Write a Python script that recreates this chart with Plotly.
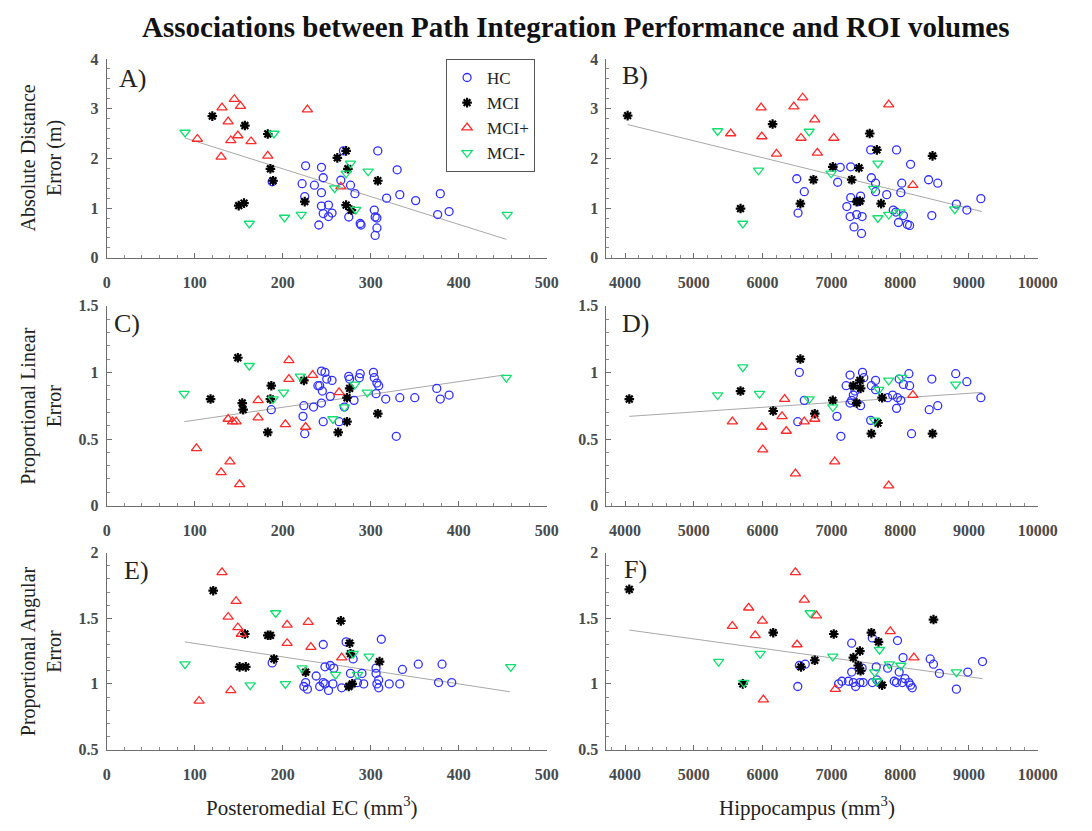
import plotly.graph_objects as go

# ---------------- Data ----------------
# Panel A: Posteromedial EC volume vs Absolute Distance Error
A_HC_x = [308, 226, 244, 246, 222, 236, 244, 266, 277, 282, 269, 188, 225, 244, 252, 246, 252, 256, 241, 275, 288, 289, 304, 305, 307, 307, 305, 330, 318, 333, 351, 379, 376, 389]
A_HC_y = [2.15, 1.85, 1.82, 1.61, 1.49, 1.46, 1.31, 1.56, 1.46, 1.29, 2.15, 1.53, 1.23, 1.04, 1.06, 0.89, 0.83, 0.90, 0.66, 0.82, 0.69, 0.66, 0.96, 0.82, 0.80, 0.60, 0.45, 1.77, 1.20, 1.27, 1.15, 1.29, 0.87, 0.93]
A_MCI_x = [120, 157, 183, 186, 189, 150, 156, 225, 262, 272, 274, 308, 272, 278]
A_MCI_y = [2.85, 2.66, 2.49, 1.79, 1.55, 1.05, 1.10, 1.13, 2.01, 2.15, 1.79, 1.55, 1.06, 0.96]
A_MCIp_x = [145, 131, 152, 228, 138, 149, 141, 164, 103, 130, 183, 266]
A_MCIp_y = [3.19, 3.02, 3.05, 2.98, 2.74, 2.46, 2.36, 2.34, 2.39, 2.03, 2.05, 1.43]
A_MCIm_x = [89, 190, 277, 297, 272, 259, 283, 202, 221, 162, 455]
A_MCIm_y = [2.52, 2.50, 1.90, 1.74, 1.70, 1.40, 0.97, 0.81, 0.87, 0.69, 0.87]
A_FIT_x = [89, 454]
A_FIT_y = [2.41, 0.37]

# Panel B: Hippocampus volume vs Absolute Distance Error
B_HC_x = [7129, 7281, 7091, 6496, 6606, 6515, 7571, 7947, 8151, 7581, 7642, 8023, 7642, 7804, 8009, 8413, 8546, 7281, 7424, 7224, 7272, 7367, 7447, 7329, 7438, 7899, 7937, 8047, 7975, 8104, 8137, 8460, 8817, 8969, 9173, 7390]
B_HC_y = [1.82, 1.83, 1.52, 1.59, 1.33, 0.90, 2.17, 2.17, 1.88, 1.61, 1.50, 1.50, 1.33, 1.27, 1.31, 1.57, 1.50, 1.21, 1.24, 1.03, 0.83, 0.87, 0.83, 0.62, 0.49, 0.96, 0.92, 0.85, 0.71, 0.67, 0.65, 0.85, 1.08, 0.96, 1.19, 1.13]
B_MCI_x = [4038, 6145, 5679, 6549, 6739, 7020, 7400, 7295, 7367, 7414, 7557, 7661, 7723, 8470]
B_MCI_y = [2.86, 2.69, 0.99, 1.09, 1.57, 1.83, 1.81, 1.57, 1.13, 1.14, 2.50, 2.17, 1.09, 2.05]
B_MCIp_x = [6582, 5978, 6454, 7833, 6758, 5536, 5988, 6558, 7034, 6202, 6796, 8184]
B_MCIp_y = [3.22, 3.02, 3.04, 3.08, 2.78, 2.50, 2.44, 2.41, 2.41, 2.09, 2.11, 1.46]
B_MCIm_x = [5346, 6677, 5940, 6996, 7676, 7614, 7676, 7833, 7994, 5712, 8793]
B_MCIm_y = [2.55, 2.54, 1.76, 1.70, 1.90, 1.39, 0.80, 0.87, 0.92, 0.69, 0.98]
B_FIT_x = [4038, 9188]
B_FIT_y = [2.68, 0.93]

# Panel C: Posteromedial EC volume vs Proportional Linear Error
C_HC_x = [244, 248, 250, 256, 240, 242, 245, 275, 276, 288, 287, 303, 304, 307, 309, 306, 281, 254, 244, 235, 224, 223, 246, 264, 270, 225, 187, 317, 333, 350, 375, 379, 389, 329]
C_HC_y = [1.01, 1.00, 0.95, 0.94, 0.90, 0.90, 0.86, 0.97, 0.95, 0.99, 0.96, 1.00, 0.96, 0.92, 0.90, 0.84, 0.79, 0.82, 0.77, 0.74, 0.75, 0.67, 0.63, 0.63, 0.74, 0.54, 0.72, 0.80, 0.81, 0.81, 0.88, 0.80, 0.83, 0.52]
C_MCI_x = [149, 118, 154, 155, 187, 186, 183, 224, 276, 273, 273, 263, 308]
C_MCI_y = [1.11, 0.80, 0.77, 0.72, 0.90, 0.80, 0.55, 0.94, 0.88, 0.81, 0.63, 0.55, 0.69]
C_MCIp_x = [207, 207, 234, 264, 172, 172, 138, 143, 147, 203, 226, 102, 140, 130, 151]
C_MCIp_y = [1.09, 0.95, 0.98, 0.85, 0.79, 0.66, 0.65, 0.63, 0.63, 0.61, 0.59, 0.43, 0.33, 0.25, 0.16]
C_MCIm_x = [88, 162, 220, 201, 189, 282, 296, 270, 257, 454]
C_MCIm_y = [0.84, 1.05, 0.97, 0.85, 0.80, 0.91, 0.85, 0.74, 0.65, 0.96]
C_FIT_x = [88, 451]
C_FIT_y = [0.63, 0.98]

# Panel D: Hippocampus volume vs Proportional Linear Error
D_HC_x = [6534, 7271, 7452, 7471, 7642, 7214, 7343, 7319, 7295, 7271, 7424, 7581, 7642, 7818, 7890, 7961, 8009, 7947, 7985, 8047, 8127, 8137, 8165, 8460, 8422, 8546, 8807, 8969, 9173, 6606, 6511, 7081, 7138, 7571]
D_HC_y = [1.00, 0.98, 1.00, 0.96, 0.94, 0.90, 0.86, 0.83, 0.79, 0.77, 0.75, 0.90, 0.87, 0.81, 0.83, 0.81, 0.79, 0.73, 0.95, 0.91, 0.99, 0.90, 0.54, 0.95, 0.72, 0.75, 0.99, 0.93, 0.81, 0.79, 0.63, 0.67, 0.52, 0.64]
D_MCI_x = [4062, 5679, 6154, 6549, 6758, 7020, 7319, 7414, 7424, 7367, 7676, 7581, 7737, 8470]
D_MCI_y = [0.80, 0.86, 0.71, 1.10, 0.69, 0.79, 0.90, 0.94, 0.88, 0.77, 0.62, 0.54, 0.81, 0.54]
D_MCIp_x = [6320, 6282, 6344, 5560, 5988, 6002, 6606, 6758, 6477, 7048, 7833, 8184]
D_MCIp_y = [0.80, 0.67, 0.56, 0.63, 0.59, 0.42, 0.63, 0.65, 0.24, 0.33, 0.15, 0.83]
D_MCIm_x = [5712, 5346, 5954, 6677, 7020, 7690, 7833, 8023, 7628, 8807]
D_MCIm_y = [1.04, 0.83, 0.84, 0.80, 0.74, 0.87, 0.94, 0.96, 0.64, 0.91]
D_FIT_x = [4062, 9197]
D_FIT_y = [0.67, 0.85]

# Panel E: Posteromedial EC volume vs Proportional Angular Error
E_HC_x = [246, 272, 312, 280, 248, 254, 258, 238, 226, 224, 228, 242, 246, 248, 252, 257, 267, 277, 285, 290, 292, 306, 306, 307, 309, 309, 321, 333, 336, 354, 381, 377, 392, 188]
E_HC_y = [1.30, 1.32, 1.34, 1.19, 1.13, 1.14, 1.12, 1.06, 1.01, 0.98, 0.96, 0.98, 1.01, 1.00, 0.95, 1.00, 0.97, 1.08, 1.01, 1.08, 1.00, 1.12, 1.08, 1.00, 0.97, 1.03, 1.00, 1.00, 1.11, 1.15, 1.15, 1.01, 1.01, 1.16]
E_MCI_x = [121, 157, 183, 186, 151, 158, 190, 226, 266, 276, 277, 310, 275, 279]
E_MCI_y = [1.71, 1.38, 1.37, 1.37, 1.13, 1.13, 1.19, 1.09, 1.48, 1.31, 1.23, 1.17, 0.98, 1.00]
E_MCIp_x = [131, 147, 138, 149, 153, 205, 229, 205, 232, 267, 141, 105]
E_MCIp_y = [1.85, 1.63, 1.51, 1.43, 1.38, 1.45, 1.47, 1.31, 1.28, 1.20, 0.95, 0.87]
E_MCIm_x = [89, 192, 280, 298, 222, 260, 285, 163, 203, 459]
E_MCIm_y = [1.15, 1.54, 1.23, 1.21, 1.12, 1.07, 1.07, 0.99, 1.00, 1.13]
E_FIT_x = [89, 458]
E_FIT_y = [1.32, 0.94]

# Panel F: Hippocampus volume vs Proportional Angular Error
F_HC_x = [7295, 7595, 7961, 8042, 8436, 8484, 8570, 8983, 9197, 8817, 6534, 6620, 6511, 7295, 7447, 7652, 7818, 7985, 7105, 7153, 7248, 7319, 7352, 7414, 7462, 7595, 7661, 7690, 7913, 7947, 8032, 8070, 8127, 8151, 8175]
F_HC_y = [1.31, 1.35, 1.33, 1.20, 1.19, 1.15, 1.08, 1.09, 1.17, 0.96, 1.14, 1.15, 0.98, 1.09, 1.12, 1.13, 1.12, 1.09, 1.00, 1.02, 1.02, 1.01, 0.98, 1.01, 1.01, 1.01, 1.03, 1.01, 1.02, 1.01, 1.01, 1.04, 1.01, 0.99, 0.97]
F_MCI_x = [4062, 6154, 6558, 6758, 7034, 7319, 7414, 7390, 7424, 7581, 7685, 7737, 8484, 5712]
F_MCI_y = [1.72, 1.39, 1.13, 1.18, 1.38, 1.20, 1.25, 1.14, 1.10, 1.39, 1.32, 0.99, 1.49, 1.00]
F_MCIp_x = [6477, 6606, 6782, 5797, 5997, 5560, 5892, 6501, 7856, 8199, 7058, 6011]
F_MCIp_y = [1.85, 1.64, 1.52, 1.58, 1.48, 1.44, 1.37, 1.30, 1.40, 1.20, 0.96, 0.88]
F_MCIm_x = [5360, 5964, 6691, 7020, 7699, 7842, 8009, 7628, 7661, 5726, 8817]
F_MCIm_y = [1.17, 1.23, 1.54, 1.21, 1.26, 1.15, 1.14, 1.09, 1.02, 1.01, 1.09]
F_FIT_x = [4062, 9197]
F_FIT_y = [1.41, 1.04]

GROUPS = ["HC", "MCI", "MCI+", "MCI-"]
PANEL_LABELS = ["A)", "B)", "C)", "D)", "E)", "F)"]
TITLE = "Associations between Path Integration Performance and ROI volumes"
Y_TITLES = ["Absolute Distance<br>Error (m)", "Proportional Linear<br>Error", "Proportional Angular<br>Error"]
X_TITLES = ["Posteromedial EC (mm<sup>3</sup>)", "Hippocampus (mm<sup>3</sup>)"]

panels = [
    dict(g=[(A_HC_x, A_HC_y), (A_MCI_x, A_MCI_y), (A_MCIp_x, A_MCIp_y), (A_MCIm_x, A_MCIm_y)], fit=(A_FIT_x, A_FIT_y)),
    dict(g=[(B_HC_x, B_HC_y), (B_MCI_x, B_MCI_y), (B_MCIp_x, B_MCIp_y), (B_MCIm_x, B_MCIm_y)], fit=(B_FIT_x, B_FIT_y)),
    dict(g=[(C_HC_x, C_HC_y), (C_MCI_x, C_MCI_y), (C_MCIp_x, C_MCIp_y), (C_MCIm_x, C_MCIm_y)], fit=(C_FIT_x, C_FIT_y)),
    dict(g=[(D_HC_x, D_HC_y), (D_MCI_x, D_MCI_y), (D_MCIp_x, D_MCIp_y), (D_MCIm_x, D_MCIm_y)], fit=(D_FIT_x, D_FIT_y)),
    dict(g=[(E_HC_x, E_HC_y), (E_MCI_x, E_MCI_y), (E_MCIp_x, E_MCIp_y), (E_MCIm_x, E_MCIm_y)], fit=(E_FIT_x, E_FIT_y)),
    dict(g=[(F_HC_x, F_HC_y), (F_MCI_x, F_MCI_y), (F_MCIp_x, F_MCIp_y), (F_MCIm_x, F_MCIm_y)], fit=(F_FIT_x, F_FIT_y)),
]

# ---------------- Styling / layout ----------------
W, H = 1092, 831
SERIF = "Liberation Serif"
styles = [
    dict(symbol="circle-open", size=8, color="#3030ff", lw=1.3),
    dict(symbol="asterisk-open", size=8, color="#000000", lw=2.2),
    dict(symbol="triangle-up-open", size=9, color="#ff2a2a", lw=1.3),
    dict(symbol="triangle-down-open", size=9, color="#10e070", lw=1.3),
]

col_px = [(105, 555), (616, 1057)]
row_px = [(52, 255), (304, 508), (556, 757)]
xranges = [[0, 500], [3730, 10000]]
yranges = [[0, 4], [0, 1.5], [0.5, 2]]
ydticks = [1, 0.5, 0.5]
yminor = [0.2, 0.1, 0.1]
xdticks = [100, 1000]
xminor = [20, 200]

fig = go.Figure()
layout = dict(width=W, height=H, margin=dict(l=0, r=0, t=0, b=0),
              paper_bgcolor="white", plot_bgcolor="white", showlegend=True)

for i, p in enumerate(panels):
    r, c = divmod(i, 2)
    n = i + 1
    xa = "x" if n == 1 else f"x{n}"
    ya = "y" if n == 1 else f"y{n}"
    fx, fy = p["fit"]
    fig.add_trace(go.Scatter(x=fx, y=fy, mode="lines", line=dict(color="#a8a8a8", width=1),
                             xaxis=xa, yaxis=ya, showlegend=False, hoverinfo="skip"))
    for gi, (gx, gy) in enumerate(p["g"]):
        s = styles[gi]
        fig.add_trace(go.Scatter(
            x=gx, y=gy, mode="markers", name=GROUPS[gi], xaxis=xa, yaxis=ya,
            legendgroup=GROUPS[gi], showlegend=(i == 0),
            marker=dict(symbol=s["symbol"], size=s["size"], color=s["color"],
                        line=dict(color=s["color"], width=s["lw"]))))
    x0, x1 = col_px[c]
    y0, y1 = row_px[r]
    axcommon = dict(showline=True, linecolor="#6e6e6e", linewidth=1, ticks="inside",
                    ticklen=5, tickcolor="#6e6e6e", showgrid=False, zeroline=False,
                    tickfont=dict(family=SERIF, size=16, color="#4a4a4a", weight="bold"),
                    mirror=False)
    layout[f"xaxis{'' if n == 1 else n}"] = dict(
        axcommon, domain=[x0 / W, x1 / W], range=xranges[c], dtick=xdticks[c],
        tick0=0, anchor=ya, tickformat="d", ticklabelstandoff=10,
        minor=dict(ticks="inside", ticklen=3, tickcolor="#8a8a8a", dtick=xminor[c], tick0=0))
    layout[f"yaxis{'' if n == 1 else n}"] = dict(
        axcommon, domain=[1 - y1 / H, 1 - y0 / H], range=yranges[r], dtick=ydticks[r],
        tick0=0, anchor=xa, ticklabelstandoff=4,
        minor=dict(ticks="inside", ticklen=3, tickcolor="#8a8a8a", dtick=yminor[r], tick0=0))

layout["legend"] = dict(x=452 / W, y=1 - 52 / H, xanchor="left", yanchor="top",
                        bgcolor="white", bordercolor="#555555", borderwidth=1,
                        font=dict(family=SERIF, size=17, color="#222222"),
                        tracegroupgap=0, itemwidth=30)

ann = []
ann.append(dict(text=f"<b>{TITLE}</b>", x=585 / W, y=1 - 19 / H, xref="paper", yref="paper",
                xanchor="center", yanchor="middle", showarrow=False,
                font=dict(family=SERIF, size=29, color="#111111")))
label_pos = [(116, 55), (630, 52), (110, 305), (630, 305), (121, 557), (632, 556)]
for lab, (lx, ly) in zip(PANEL_LABELS, label_pos):
    ann.append(dict(text=lab, x=lx / W, y=1 - ly / H, xref="paper", yref="paper",
                    xanchor="left", yanchor="top", showarrow=False,
                    font=dict(family=SERIF, size=26, color="#222222")))
for r, t in enumerate(Y_TITLES):
    yc = (row_px[r][0] + row_px[r][1]) / 2
    ann.append(dict(text=t, x=38 / W, y=1 - yc / H, xref="paper", yref="paper",
                    xanchor="center", yanchor="middle", textangle=-90, showarrow=False,
                    font=dict(family=SERIF, size=20, color="#222222")))
for c, t in enumerate(X_TITLES):
    xc = (col_px[c][0] + col_px[c][1]) / 2
    ann.append(dict(text=t, x=(xc - 15) / W, y=1 - 815 / H, xref="paper", yref="paper",
                    xanchor="center", yanchor="middle", showarrow=False,
                    font=dict(family=SERIF, size=21, color="#222222")))
layout["annotations"] = ann

fig.update_layout(**layout)
fig.write_html("out.html")
